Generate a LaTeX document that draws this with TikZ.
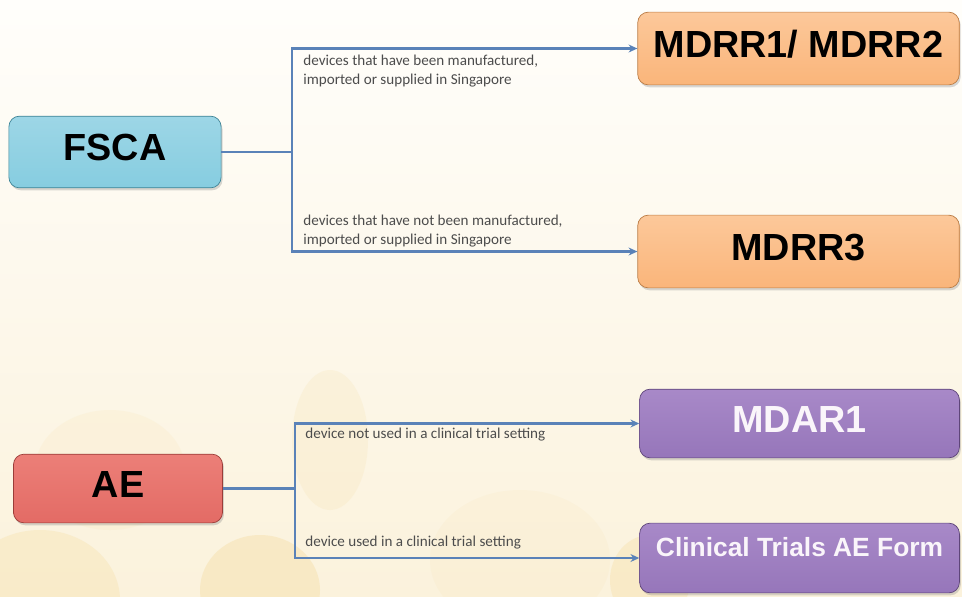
\documentclass[tikz,border=0pt]{standalone}
\usepackage{fontspec}
\setmainfont{Liberation Sans}
\newfontfamily\condfont{Carlito}
\usetikzlibrary{arrows.meta, shadows}

\definecolor{linkblue}{HTML}{5A82B8}
\definecolor{creamtop}{HTML}{FFFEFB}
\definecolor{creambot}{HTML}{FBF2DC}
\definecolor{blob}{HTML}{F6DFA8}
\definecolor{fscatop}{HTML}{9DD6E6}
\definecolor{fscamid}{HTML}{58BCD6}
\definecolor{fscabot}{HTML}{86CDE0}
\definecolor{mdrrtop}{HTML}{FCC89A}
\definecolor{mdrrmid}{HTML}{F9A75D}
\definecolor{mdrrbot}{HTML}{FAB57A}
\definecolor{aetop}{HTML}{EC7F78}
\definecolor{aemid}{HTML}{DD5550}
\definecolor{aebot}{HTML}{E36B65}
\definecolor{mdartop}{HTML}{A889C8}
\definecolor{mdarmid}{HTML}{8762AD}
\definecolor{mdarbot}{HTML}{9676BA}

\tikzset{
  formbox/.style={rounded corners=6pt, inner sep=0pt, text height=16pt, text depth=6pt,
    font=\bfseries\fontsize{21.5}{24}\selectfont,
    drop shadow={shadow xshift=0.8pt, shadow yshift=-1.4pt, opacity=0.3}},
  fscabox/.style={formbox, draw=fscamid!70!black, top color=fscatop, middle color=fscamid, bottom color=fscabot},
  mdrrbox/.style={formbox, draw=mdrrmid!75!black, top color=mdrrtop, middle color=mdrrmid, bottom color=mdrrbot},
  aebox/.style={formbox, draw=aemid!70!black, top color=aetop, middle color=aemid, bottom color=aebot},
  mdarbox/.style={formbox, draw=mdarmid!70!black, top color=mdartop, middle color=mdarmid, bottom color=mdarbot, text=white!96!violet},
  branch/.style={draw=linkblue, line width=1.4pt},
  cond/.style={font=\condfont\fontsize{8.6}{10.8}\selectfont, text=black!70, align=left, anchor=north west, inner sep=0pt},
}

\begin{document}
\begin{tikzpicture}[x=0.02cm, y=-0.02cm, >={Stealth[length=5pt, width=4.5pt]}]
  % background
  \useasboundingbox (0,0) rectangle (962,596);
  \shade[top color=creamtop, bottom color=creambot] (0,0) rectangle (962,596);
  \begin{scope}
    \clip (0,0) rectangle (962,596);
    \fill[blob, opacity=0.15] (110,470) ellipse (75 and 60);
    \fill[blob, opacity=0.2] (330,440) ellipse (38 and 70);
    \fill[blob, opacity=0.45] (260,590) ellipse (60 and 55);
    \fill[blob, opacity=0.35] (40,600) ellipse (80 and 70);
    \fill[blob, opacity=0.12] (520,560) ellipse (90 and 70);
    \fill[blob, opacity=0.4] (650,580) ellipse (40 and 45);
  \end{scope}

  % boxes
  \node[fscabox, minimum width=120.8pt, minimum height=40.8pt] (fsca) at (115,152) {FSCA};
  \node[mdrrbox, minimum width=183pt, minimum height=41.4pt] (mdrr12) at (798.5,48.5) {MDRR1/ MDRR2};
  \node[mdrrbox, minimum width=183pt, minimum height=41.4pt] (mdrr3) at (798.5,251.5) {MDRR3};
  \node[aebox, minimum width=119pt, minimum height=39.1pt] (ae) at (118,488.5) {AE};
  \node[mdarbox, minimum width=182pt, minimum height=39.1pt] (mdar1) at (799.5,423.5) {MDAR1};
  \node[mdarbox, minimum width=182pt, minimum height=39.7pt, font=\bfseries\fontsize{15}{18}\selectfont,
        text height=10.8pt, text depth=12pt] (ctform) at (799.5,558) {Clinical Trials AE Form};

  % split points
  \coordinate (fsplit) at (292,152);
  \coordinate (aesplit) at (295,488.5);

  % connectors
  \draw[branch] (fsca.east) -- (fsplit);
  \draw[branch, ->] (fsplit) |- (mdrr12.west);
  \draw[branch, ->] (fsplit) |- (mdrr3.west);
  \draw[branch] (ae.east) -- (aesplit);
  \draw[branch, ->] (aesplit) |- (mdar1.west);
  \draw[branch, ->] (aesplit) |- (ctform.west);

  % conditions
  \node[cond] (made) at (303,55) {devices that have been manufactured,\\imported or supplied in Singapore};
  \node[cond] (notmade) at (303,215) {devices that have not been manufactured,\\imported or supplied in Singapore};
  \node[cond] (notrial) at (305,428) {device not used in a clinical trial setting};
  \node[cond] (trial) at (305,536) {device used in a clinical trial setting};
\end{tikzpicture}
\end{document}
